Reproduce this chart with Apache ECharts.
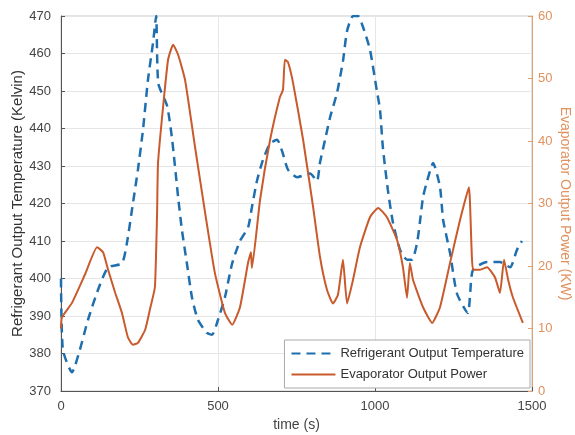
<!DOCTYPE html>
<html>
<head>
<meta charset="utf-8">
<script src="https://cdn.jsdelivr.net/npm/echarts@6/dist/echarts.min.js"></script>
<style>
  html, body { margin: 0; padding: 0; background: #fff; }
  #chart { width: 575px; height: 435px; }
</style>
</head>
<body>
<div id="chart"></div>
<script>
// refrigerant output temperature (Kelvin)
const tempTime = [0, 6, 35, 60, 86, 118, 150, 194, 210, 229, 245, 261, 277, 293, 303, 310, 338, 354, 373, 385, 401, 417, 436, 465, 481, 500, 522, 545, 570, 596, 608, 624, 643, 666, 688, 704, 723, 752, 793, 815, 825, 841, 857, 879, 898, 911, 930, 946, 962, 984, 1006, 1016, 1025, 1041, 1057, 1080, 1102, 1118, 1134, 1143, 1153, 1166, 1185, 1207, 1217, 1239, 1261, 1296, 1303, 1312, 1357, 1398, 1430, 1452, 1468];
const tempValues = [400, 381, 375, 381, 389, 397, 403, 404, 409.5, 420, 429, 439.6, 453, 462.8, 470, 452, 446, 437, 421.7, 413, 404, 395, 389, 385.5, 385, 389, 395, 404, 410, 413.7, 419, 426, 431.6, 436, 437, 434, 429, 427, 428, 426, 431, 437, 443, 449.5, 458, 466, 470, 470, 467, 461, 450, 445, 435, 423.6, 415, 407.6, 405, 405, 409.5, 415, 421.7, 426, 430.8, 424.4, 415.6, 406.8, 396, 390.8, 396, 402.3, 404.4, 404.4, 403, 407.6, 410];

// evaporator output power (KW)
const powerTime = [0, 3, 35, 76, 115, 134, 150, 172, 194, 213, 229, 245, 268, 283, 299, 306, 309, 325, 341, 357, 373, 395, 427, 459, 490, 522, 545, 570, 596, 605, 608, 634, 666, 697, 707, 713, 723, 739, 771, 803, 825, 847, 866, 882, 898, 911, 930, 952, 984, 1010, 1038, 1070, 1089, 1102, 1111, 1121, 1153, 1182, 1207, 1239, 1271, 1299, 1312, 1334, 1357, 1382, 1398, 1411, 1424, 1439, 1471];
const powerValues = [10, 11.8, 14.1, 18.6, 23, 22.2, 19.4, 15.8, 12.5, 8.6, 7.4, 7.7, 9.8, 13, 16.6, 28.5, 36.5, 45.4, 53, 55.4, 53.8, 49.8, 39, 28.5, 18.9, 12.5, 10.6, 13.4, 20.6, 22.2, 19.7, 30.6, 40.2, 47, 48.2, 53, 52.6, 49.3, 40.2, 29.4, 21.4, 16.2, 14, 15.4, 21, 14, 17.8, 23, 27.8, 29.3, 27.8, 24.2, 19.8, 14.9, 20.5, 17.8, 13.4, 10.9, 13.4, 20.5, 27.4, 32.6, 19.4, 19.4, 19.8, 18.2, 15.7, 21, 17.8, 15, 10.9];

const xTicks = [0, 1500, 500];
const tempTicks = [370, 470, 10];
const powerTicks = [0, 60, 10];

const blue = '#1f6fae';
const orange = '#c85a2c';
const font = 'Liberation Sans';

let chart = echarts.init(document.getElementById('chart'));
chart.setOption({
  animation: false,
  textStyle: { fontFamily: font },
  grid: {
    left: 61, right: 43, top: 16, bottom: 44,
    outerBoundsMode: 'none', containLabel: false,
    show: true, borderColor: '#c8c8c8', borderWidth: 1
  },
  legend: {
    orient: 'vertical',
    right: 45, bottom: 47,
    backgroundColor: '#fff',
    borderColor: '#aaa', borderWidth: 1,
    padding: [7, 6, 7, 6],
    itemGap: 8,
    itemWidth: 44, itemHeight: 12,
    itemStyle: { opacity: 0 },
    textStyle: { fontSize: 13, color: '#333', fontFamily: font },
    data: ['Refrigerant Output Temperature', 'Evaporator Output Power']
  },
  xAxis: {
    type: 'value',
    min: xTicks[0], max: xTicks[1], interval: xTicks[2],
    name: 'time (s)', nameLocation: 'middle', nameGap: 26,
    nameTextStyle: { fontSize: 14, color: '#444' },
    axisLine: { show: true, lineStyle: { color: '#555' } },
    axisTick: { inside: true, length: 4, lineStyle: { color: '#555' } },
    axisLabel: { fontSize: 13, color: '#444', margin: 9, formatter: v => String(v) },
    splitLine: { show: true, lineStyle: { color: '#e6e6e6' } }
  },
  yAxis: [{
    type: 'value',
    min: tempTicks[0], max: tempTicks[1], interval: tempTicks[2],
    name: 'Refrigerant Output Temperature (Kelvin)', nameLocation: 'middle', nameGap: 36,
    nameMoveOverlap: false,
    nameTextStyle: { fontSize: 15, color: '#333' },
    axisLine: { show: true, lineStyle: { color: '#555' } },
    axisTick: { show: true, inside: true, length: 4, lineStyle: { color: '#555' } },
    axisLabel: { fontSize: 13, color: '#444', margin: 10 },
    splitLine: { show: true, lineStyle: { color: '#e6e6e6' } }
  }, {
    type: 'value',
    min: powerTicks[0], max: powerTicks[1], interval: powerTicks[2],
    name: 'Evaporator Output Power (KW)', nameLocation: 'middle', nameGap: 26, nameRotate: -90,
    nameMoveOverlap: false,
    nameTextStyle: { fontSize: 14, color: '#e0915e' },
    position: 'right',
    axisLine: { show: true, lineStyle: { color: '#e0a070' } },
    axisTick: { show: true, inside: true, length: 4, lineStyle: { color: '#e0a070' } },
    axisLabel: { fontSize: 13, color: '#e0915e', margin: 6 },
    splitLine: { show: false }
  }],
  series: [{
    name: 'Refrigerant Output Temperature',
    type: 'line',
    yAxisIndex: 0,
    symbol: 'none',
    smooth: 0.2,
    lineStyle: { color: blue, width: 2.5, type: [9, 6] },
    itemStyle: { color: blue },
    data: tempTime.map((t, i) => [t, tempValues[i]])
  }, {
    name: 'Evaporator Output Power',
    type: 'line',
    yAxisIndex: 1,
    symbol: 'none',
    smooth: 0.15,
    lineStyle: { color: orange, width: 2 },
    itemStyle: { color: orange },
    data: powerTime.map((t, i) => [t, powerValues[i]])
  }]
});
window.addEventListener('resize', () => chart.resize());
</script>
</body>
</html>
